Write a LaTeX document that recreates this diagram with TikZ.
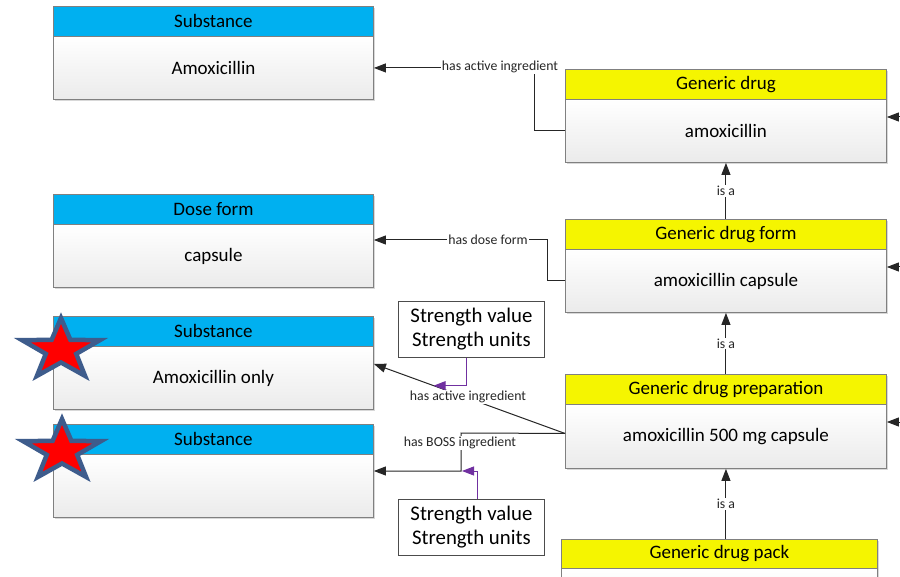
\documentclass[tikz,border=0pt]{standalone}
\usepackage{fontspec}
\setmainfont{Carlito}
\usetikzlibrary{arrows.meta,calc,shadows}
\definecolor{hdrblue}{RGB}{0,176,240}
\definecolor{hdryellow}{RGB}{245,245,0}
\definecolor{edgegray}{RGB}{128,128,128}
\definecolor{conncol}{RGB}{38,38,38}
\definecolor{linkpurple}{RGB}{112,48,160}
\definecolor{starblue}{RGB}{62,92,140}

% five-pointed star, slightly widened
\newcommand{\redstar}[1]{%
  \begin{scope}[shift={#1}, yscale=-1, xscale=1.28]
    \draw[starstyle] (90:32) -- (126:12.5) -- (162:32) -- (198:12.5) -- (234:32)
      -- (270:12.5) -- (306:32) -- (342:12.5) -- (18:32) -- (54:12.5) -- cycle;
  \end{scope}}

\begin{document}
\begin{tikzpicture}[x=1pt,y=-1pt,
  boxtext/.style={font=\fontsize{19}{22}\selectfont, text=black},
  boxshadow/.style={drop shadow={shadow xshift=1.5pt, shadow yshift=-1.5pt, fill=black!30, opacity=0.5}},
  hdr/.style={draw=edgegray, line width=0.9pt, anchor=north west, minimum height=30pt,
    inner sep=0pt, boxtext, boxshadow},
  body/.style={draw=edgegray, line width=0.9pt, anchor=north west, inner sep=0pt,
    top color=white, bottom color=black!8, boxtext, boxshadow},
  leftbox/.style={minimum width=320pt},
  rightbox/.style={minimum width=321pt},
  conn/.style={draw=conncol, line width=1pt, -{Triangle[length=12pt,width=9pt]}},
  purplelink/.style={draw=linkpurple, line width=1pt, -{Triangle[length=12pt,width=9pt]}},
  lbl/.style={fill=white, inner sep=1pt, text=conncol, font=\fontsize{13.8}{16}\selectfont},
  strength/.style={draw=black!70, line width=0.9pt, anchor=north west, minimum width=146pt,
    minimum height=56pt, inner sep=0pt, align=center, font=\fontsize{20.8}{24}\selectfont},
  starstyle/.style={draw=starblue, fill=red, line width=4.5pt, line join=miter}
]
\useasboundingbox (0,0) rectangle (900,577);
\clip (0,0) rectangle (900,577);
\fill[white] (0,0) rectangle (900,577);

% left column: concept boxes
\node[hdr, leftbox, fill=hdrblue] (s1h) at (53,6) {Substance};
\node[body, leftbox, minimum height=63pt] (s1b) at (53,36) {Amoxicillin};

\node[hdr, leftbox, fill=hdrblue] (d1h) at (53,194) {Dose form};
\node[body, leftbox, minimum height=63pt] (d1b) at (53,224) {capsule};

\node[hdr, leftbox, fill=hdrblue] (s3h) at (53,316) {Substance};
\node[body, leftbox, minimum height=63pt] (s3b) at (53,346) {Amoxicillin only};

\node[hdr, leftbox, fill=hdrblue] (s4h) at (53,424) {Substance};
\node[body, leftbox, minimum height=63pt] (s4b) at (53,454) {};

% right column: generic drug hierarchy
\node[hdr, rightbox, fill=hdryellow] (g1h) at (565,69) {Generic drug};
\node[body, rightbox, minimum height=63pt] (g1b) at (565,99) {amoxicillin};

\node[hdr, rightbox, fill=hdryellow] (g2h) at (565,219) {Generic drug form};
\node[body, rightbox, minimum height=63pt] (g2b) at (565,249) {amoxicillin capsule};

\node[hdr, rightbox, fill=hdryellow] (g3h) at (565,374) {Generic drug preparation};
\node[body, rightbox, minimum height=64pt] (g3b) at (565,404) {amoxicillin 500 mg capsule};

\node[hdr, minimum width=316pt, minimum height=29pt, fill=hdryellow] (g4h) at (561,539) {Generic drug pack};
\node[body, minimum width=316pt, minimum height=60pt] (g4b) at (561,568) {};

% strength attribute boxes
\node[strength] (st1) at (398,301) {Strength value\\Strength units};
\node[strength] (st2) at (398,499) {Strength value\\Strength units};

% is-a links
\draw[conn] (g2h.north) -- node[lbl] {is a} (g1b.south);
\draw[conn] (g3h.north) -- node[lbl] {is a} (g2b.south);
\draw[conn] (g4h.north -| g3b.south) -- node[lbl] {is a} (g3b.south);

% incoming links from the right
\coordinate (r1) at (900,117);
\coordinate (r2) at (900,267);
\coordinate (r3) at (900,422);
\draw[conn] (r1) -- (r1 -| g1b.east);
\draw[conn] (r2) -- (r2 -| g2b.east);
\draw[conn] (r3) -- (r3 -| g3b.east);

% attribute links
\draw[conn] (g1b.west) -- ++(-31,0) |- (s1b.east);
\node[lbl] (lai1) at (500,67) {has active ingredient};

\draw[conn] (g2b.west) -- ++(-18,0) |- ([yshift=-16pt]d1b.north east);
\node[lbl] (ldf) at (488,240) {has dose form};

\coordinate (g3in) at ([yshift=3pt]g3b.west);
\coordinate (s3in) at ([yshift=14pt]s3b.east);
\draw[conn] (g3in) -- (s3in);
\node[lbl] (lai2) at (468,397) {has active ingredient};

\coordinate (bossturn) at (461,433);
\draw[conn] (g3in) -- (bossturn) |- ([yshift=-17pt]s4b.north east);
\node[lbl] (lboss) at (460,443) {has BOSS ingredient};

% strength qualifiers attached to the links
\coordinate (pa) at ($(s3in)!0.3125!(g3in)$);
\draw[purplelink] ([xshift=-5pt]st1.south) |- (pa);
\coordinate (pb) at (462,471);
\draw[purplelink] ([xshift=6pt]st2.north) |- (pb);

% markers
\redstar{(61,350)}
\redstar{(62,451)}
\end{tikzpicture}
\end{document}
